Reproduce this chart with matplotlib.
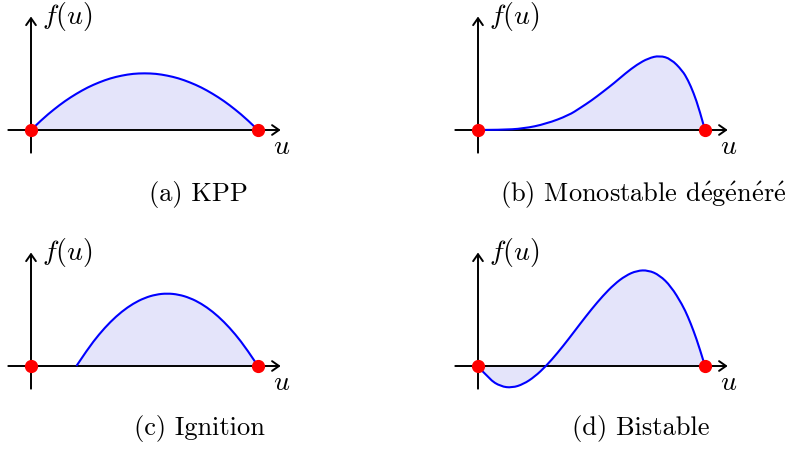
import matplotlib.pyplot as plt
from matplotlib.path import Path
from matplotlib.patches import PathPatch

plt.rcParams['font.family'] = ['cmr10', 'DejaVu Serif']
plt.rcParams['mathtext.fontset'] = 'cm'
plt.rcParams['axes.formatter.use_mathtext'] = True

#%% data

u_kpp = [0, .05, .1, .15, .2, .25, .3, .35, .4, .45, .5,
         .55, .6, .65, .7, .75, .8, .85, .9, .95, 1]
f_kpp = [0, .048, .09, .128, .16, .188, .21, .228, .24, .248, .25,
         .248, .24, .228, .21, .188, .16, .128, .09, .048, 0]

u_mono = [0, .1, .2, .3, .4, .45, .5, .55, .6, .65, .7, .75,
          .8, .85, .9, .925, .95, .975, 1]
f_mono = [0, .0005, .006, .027, .065, .097, .13, .168, .207, .25, .288, .316,
          .328, .313, .262, .22, .163, .09, 0]

u_ign = [.2, .25, .3, .35, .4, .45, .5, .55, .6,
         .65, .7, .75, .8, .85, .9, .95, 1]
f_ign = [0, .075, .14, .195, .24, .275, .3, .315, .32,
         .315, .3, .275, .24, .195, .14, .075, 0]

u_bis = [0, .05, .1, .15, .2, .25, .3, .35, .4, .45, .5, .55, .6,
         .65, .7, .75, .8, .85, .9, .925, .95, .975, 1]
f_bis = [0, -.059, -.09, -.096, -.08, -.047, 0, .057, .12, .186, .25, .309, .36,
         .398, .42, .422, .4, .351, .27, .217, .154, .082, 0]

e = r'$\mathrm{\acute{e}}$'
captions = ['(a) KPP', '(b) Monostable d' + e + 'g' + e + 'n' + e + 'r' + e,
            '(c) Ignition', '(d) Bistable']

#%% layout

W, H = 789, 451
S = 227  # pixels per unit
XLIM = (-0.14, 1.25)
YLIM = (-0.15, 0.6)
FILL = '#e4e4fa'
FS = 19

fig = plt.figure(figsize=(W / 100, H / 100), dpi=100)


def add_panel(ox, oy):
    left = (ox + XLIM[0] * S) / W
    bottom = (H - (oy - YLIM[0] * S)) / H
    ax = fig.add_axes([left, bottom, (XLIM[1] - XLIM[0]) * S / W,
                       (YLIM[1] - YLIM[0]) * S / H])
    ax.set_xlim(XLIM)
    ax.set_ylim(YLIM)
    ax.axis('off')
    return ax


def smooth(u, f, closed=False):
    # quadratic b-spline through the read points
    pts = list(zip(u, f))
    verts = [pts[0]]
    codes = [Path.MOVETO]
    for i in range(1, len(pts) - 1):
        if i == len(pts) - 2:
            end = pts[-1]
        else:
            end = ((pts[i][0] + pts[i + 1][0]) / 2, (pts[i][1] + pts[i + 1][1]) / 2)
        verts += [pts[i], end]
        codes += [Path.CURVE3, Path.CURVE3]
    if closed:
        verts += [(u[-1], 0), (u[0], 0), (u[0], 0)]
        codes += [Path.LINETO, Path.LINETO, Path.CLOSEPOLY]
    return Path(verts, codes)


def draw(ax, u, f):
    ax.add_patch(PathPatch(smooth(u, f, True), fc=FILL, ec='none', zorder=1))
    arrow = dict(arrowstyle='->,head_length=0.5,head_width=0.35', lw=1.4,
                 color='black', shrinkA=0, shrinkB=0)
    ax.annotate('', xy=(1.1, 0), xytext=(-0.1, 0), arrowprops=arrow, zorder=2)
    ax.annotate('', xy=(0, 0.5), xytext=(0, -0.1), arrowprops=arrow, zorder=2)
    ax.add_patch(PathPatch(smooth(u, f), fc='none', ec='blue', lw=1.5, zorder=3))
    ax.plot([0, 1], [0, 0], 'o', color='red', ms=8.5, zorder=4)
    ax.text(1.105, -0.075, '$u$', ha='center', va='center', fontsize=FS + 1)
    ax.text(0.05, 0.5, '$f(u)$', ha='left', va='center', fontsize=FS + 1)


panels = [(31, 130, u_kpp, f_kpp), (478, 130, u_mono, f_mono),
          (31, 366, u_ign, f_ign), (478, 366, u_bis, f_bis)]
cap_pos = [(198, 195), (643, 195), (199, 428), (641, 428)]

for (ox, oy, u, f), cap, (cx, cy) in zip(panels, captions, cap_pos):
    ax = add_panel(ox, oy)
    draw(ax, u, f)
    fig.text(cx / W, 1 - cy / H, cap, ha='center', va='center', fontsize=FS)

plt.savefig('out.png', dpi=100)
